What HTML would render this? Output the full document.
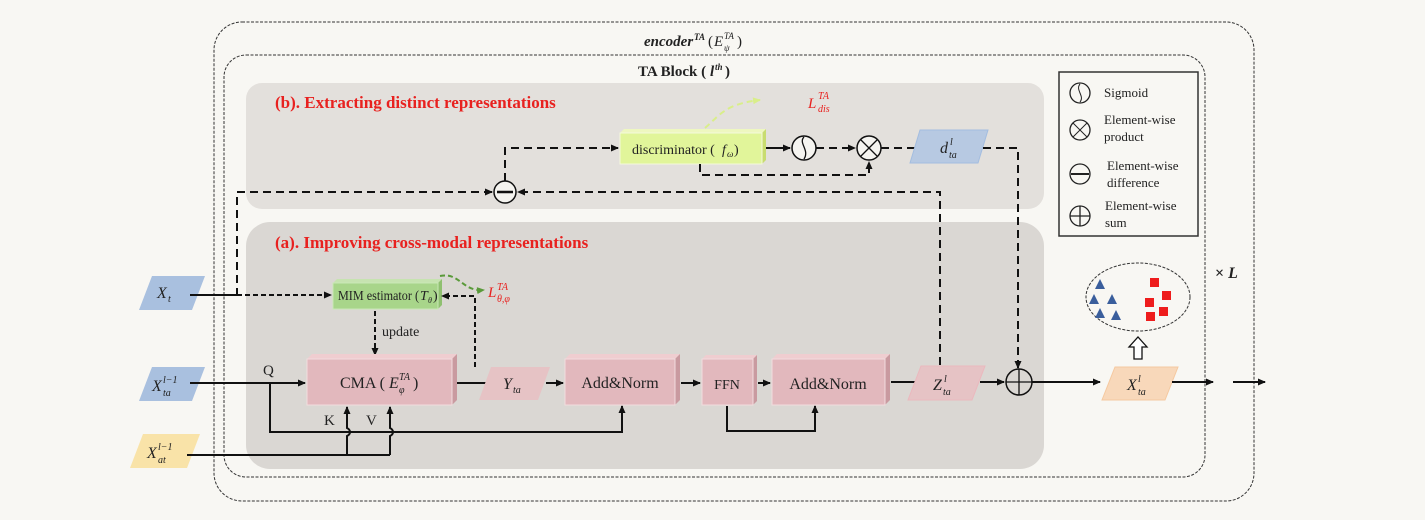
<!DOCTYPE html>
<html><head><meta charset="utf-8"><style>
html,body{margin:0;padding:0;background:#f8f7f3;}
svg{display:block;}
text{font-family:"Liberation Serif",serif;fill:#222;}
.it{font-style:italic;}
.r{fill:#e8211f;}
</style></head><body>
<svg width="1425" height="520" viewBox="0 0 1425 520" xmlns="http://www.w3.org/2000/svg">
<defs>
<marker id="a" markerWidth="8" markerHeight="8" refX="7" refY="4" orient="auto" markerUnits="userSpaceOnUse"><path d="M0,0.5 L8,4 L0,7.5 Z" fill="#111"/></marker>
<marker id="g" markerWidth="8" markerHeight="8" refX="7" refY="4" orient="auto" markerUnits="userSpaceOnUse"><path d="M0,0.5 L8,4 L0,7.5 Z" fill="#5a9a3a"/></marker>
<marker id="y" markerWidth="8" markerHeight="8" refX="7" refY="4" orient="auto" markerUnits="userSpaceOnUse"><path d="M0,0.5 L8,4 L0,7.5 Z" fill="#d9ee8a"/></marker>
</defs>
<rect width="1425" height="520" fill="#f8f7f3"/>
<rect x="214" y="22" width="1040" height="479" rx="28" fill="none" stroke="#333" stroke-width="1" stroke-dasharray="3,1.5"/>
<rect x="224" y="55" width="981" height="422" rx="22" fill="none" stroke="#333" stroke-width="1" stroke-dasharray="3,1.5"/>
<!-- title -->
<text x="644" y="46" font-size="15" font-weight="bold" class="it">encoder</text>
<text x="694" y="40" font-size="9" font-weight="bold" class="it">TA</text>
<text x="708" y="46" font-size="15">(</text>
<text x="714" y="46" font-size="15" class="it">E</text>
<text x="724" y="39" font-size="9" class="it">TA</text>
<text x="724" y="51" font-size="9" class="it">ψ</text>
<text x="737" y="46" font-size="15">)</text>
<text x="638" y="76" font-size="15" font-weight="bold">TA Block  (</text>
<text x="710" y="76" font-size="15" font-weight="bold" class="it">l</text>
<text x="715" y="70" font-size="9" font-weight="bold" class="it">th</text>
<text x="725" y="76" font-size="15" font-weight="bold">)</text>
<!-- panels -->
<rect x="246" y="83" width="798" height="126" rx="16" fill="#e3e0dc"/>
<rect x="246" y="222" width="798" height="247" rx="24" fill="#dad7d3"/>
<text x="275" y="108" font-size="17" font-weight="bold" class="r">(b). Extracting distinct representations</text>
<text x="275" y="248" font-size="17" font-weight="bold" class="r">(a). Improving cross-modal representations</text>
<!-- discriminator -->
<path d="M620,133 L624,129 L766,129 L762,133 Z" fill="#eef7c0"/>
<path d="M762,133 L766,129 L766,160 L762,164 Z" fill="#c8dc70"/>
<rect x="620" y="133" width="142" height="31" fill="#e1f59a" stroke="#f4f9dc"/>
<text x="632" y="154" font-size="14">discriminator (</text>
<text x="722" y="154" font-size="14" class="it">f</text>
<text x="727" y="157" font-size="9" class="it">ω</text>
<text x="734" y="154" font-size="14">)</text>
<path d="M705,128 C720,115 725,104 760,100" stroke="#d9ee8a" stroke-width="2" fill="none" stroke-dasharray="6,4" marker-end="url(#y)"/>
<text x="808" y="108" font-size="15" class="it r">L</text>
<text x="818" y="99" font-size="10" class="it r">TA</text>
<text x="818" y="112" font-size="10" class="it r">dis</text>
<line x1="766" y1="148" x2="790" y2="148" stroke="#111" stroke-width="2" marker-end="url(#a)"/>
<circle cx="804" cy="148" r="12" fill="#f5f4f0" stroke="#111" stroke-width="1.5"/>
<path d="M804,137 C798,143 810,150 804,159" stroke="#111" fill="none" stroke-width="1.3"/>
<line x1="816" y1="148" x2="855" y2="148" stroke="#111" stroke-width="2" stroke-dasharray="8,5" marker-end="url(#a)"/>
<circle cx="869" cy="148" r="12" fill="#f5f4f0" stroke="#111" stroke-width="1.5"/>
<path d="M861,140 L877,156 M877,140 L861,156" stroke="#111" stroke-width="1.3"/>
<path d="M700,164 L700,175 L869,175 L869,162" stroke="#111" stroke-width="2" fill="none" stroke-dasharray="8,5" marker-end="url(#a)"/>
<line x1="881" y1="148" x2="915" y2="148" stroke="#111" stroke-width="2" stroke-dasharray="8,5"/>
<polygon points="920,130 988,130 978,163 910,163" fill="#b7c9e2" stroke="#a3bde0"/>
<text x="940" y="153" font-size="16" class="it">d</text>
<text x="950" y="145" font-size="10" class="it">l</text>
<text x="949" y="158" font-size="10" class="it">ta</text>
<path d="M983,148 L1018,148 L1018,368" stroke="#111" stroke-width="2" fill="none" stroke-dasharray="8,5" marker-end="url(#a)"/>
<!-- difference -->
<path d="M237,296 L237,192 L492,192" stroke="#111" stroke-width="2" fill="none" stroke-dasharray="8,5" marker-end="url(#a)"/>
<path d="M940,365 L940,192 L518,192" stroke="#111" stroke-width="2" fill="none" stroke-dasharray="8,5" marker-end="url(#a)"/>
<circle cx="505" cy="192" r="11" fill="#f5f4f0" stroke="#111" stroke-width="1.5"/>
<line x1="497" y1="192" x2="513" y2="192" stroke="#111" stroke-width="2.5"/>
<path d="M505,181 L505,148 L618,148" stroke="#111" stroke-width="2" fill="none" stroke-dasharray="8,5" marker-end="url(#a)"/>
<!-- legend -->
<rect x="1059" y="72" width="139" height="164" fill="none" stroke="#333" stroke-width="1.5"/>
<circle cx="1080" cy="93" r="10" fill="none" stroke="#222" stroke-width="1.3"/>
<path d="M1080,84 C1075,90 1085,96 1080,102" stroke="#222" fill="none"/>
<text x="1104" y="97" font-size="13">Sigmoid</text>
<circle cx="1080" cy="130" r="10" fill="none" stroke="#222" stroke-width="1.3"/>
<path d="M1073,123 L1087,137 M1087,123 L1073,137" stroke="#222"/>
<text x="1104" y="124" font-size="13">Element-wise</text><text x="1104" y="141" font-size="13">product</text>
<circle cx="1080" cy="174" r="10" fill="none" stroke="#222" stroke-width="1.3"/>
<line x1="1071" y1="174" x2="1089" y2="174" stroke="#222" stroke-width="2"/>
<text x="1107" y="170" font-size="13">Element-wise</text><text x="1107" y="187" font-size="13">difference</text>
<circle cx="1080" cy="216" r="10" fill="none" stroke="#222" stroke-width="1.3"/>
<path d="M1070,216 L1090,216 M1080,206 L1080,226" stroke="#222" stroke-width="1.3"/>
<text x="1105" y="210" font-size="13">Element-wise</text><text x="1105" y="227" font-size="13">sum</text>
<!-- inputs -->
<polygon points="152,276 205,276 192,310 139,310" fill="#a9c0df"/>
<text x="157" y="298" font-size="16" class="it">X</text>
<text x="168" y="302" font-size="10" class="it">t</text>
<polygon points="152,367 205,367 192,401 139,401" fill="#a9c0df"/>
<text x="152" y="391" font-size="16" class="it">X</text>
<text x="163" y="383" font-size="10" class="it">l−1</text>
<text x="163" y="396" font-size="10" class="it">ta</text>
<polygon points="143,434 200,434 187,468 130,468" fill="#f9e3a8"/>
<text x="147" y="458" font-size="16" class="it">X</text>
<text x="158" y="450" font-size="10" class="it">l−1</text>
<text x="158" y="463" font-size="10" class="it">at</text>
<!-- MIM -->
<path d="M333,283 L337,279 L442,279 L438,283 Z" fill="#c6e3b0"/>
<path d="M438,283 L442,279 L442,305 L438,309 Z" fill="#8fc070"/>
<rect x="333" y="283" width="105" height="26" fill="#a8d58a" stroke="#c9e8b6"/>
<text x="338" y="300" font-size="14" textLength="81" lengthAdjust="spacingAndGlyphs">MIM estimator (</text>
<text x="420" y="300" font-size="14" class="it">T</text>
<text x="428" y="303" font-size="8" class="it">θ</text>
<text x="433" y="300" font-size="14">)</text>
<line x1="190" y1="295" x2="237" y2="295" stroke="#111" stroke-width="2"/>
<line x1="237" y1="295" x2="331" y2="295" stroke="#111" stroke-width="2" stroke-dasharray="5,3" marker-end="url(#a)"/>
<path d="M440,276 C460,272 462,292 484,290" stroke="#5a9a3a" stroke-width="2" fill="none" stroke-dasharray="5,3" marker-end="url(#g)"/>
<text x="488" y="297" font-size="15" class="it r">L</text>
<text x="497" y="290" font-size="10" class="it r">TA</text>
<text x="497" y="302" font-size="10" class="it r">θ,φ</text>
<path d="M475,367 L475,296 L442,296" stroke="#111" stroke-width="2" fill="none" stroke-dasharray="5,3" marker-end="url(#a)"/>
<line x1="375" y1="311" x2="375" y2="355" stroke="#111" stroke-width="2" stroke-dasharray="5,3" marker-end="url(#a)"/>
<text x="382" y="336" font-size="14">update</text>
<!-- CMA -->
<path d="M307,359 L312,354 L457,354 L452,359 Z" fill="#efcdd0"/>
<path d="M452,359 L457,354 L457,400 L452,405 Z" fill="#c99aa0"/>
<rect x="307" y="359" width="145" height="46" fill="#e2b8bd" stroke="#f1dcde"/>
<text x="340" y="388" font-size="16">CMA (</text>
<text x="389" y="388" font-size="16" class="it">E</text>
<text x="399" y="380" font-size="10" class="it">TA</text>
<text x="399" y="393" font-size="10" class="it">φ</text>
<text x="413" y="388" font-size="16">)</text>
<line x1="190" y1="383" x2="305" y2="383" stroke="#111" stroke-width="2" marker-end="url(#a)"/>
<text x="263" y="375" font-size="15">Q</text>
<path d="M270,383 L270,432 L622,432 L622,406" stroke="#111" stroke-width="2" fill="none" marker-end="url(#a)"/>
<path d="M187,455 L390,455" stroke="#111" stroke-width="2" fill="none"/>
<path d="M347,455 L347,436 C351,434 351,430 347,428 L347,407" stroke="#111" stroke-width="2" fill="none" marker-end="url(#a)"/>
<path d="M390,455 L390,436 C394,434 394,430 390,428 L390,407" stroke="#111" stroke-width="2" fill="none" marker-end="url(#a)"/>
<text x="324" y="425" font-size="15">K</text>
<text x="366" y="425" font-size="15">V</text>
<!-- Y_ta -->
<line x1="457" y1="383" x2="490" y2="383" stroke="#111" stroke-width="2"/>
<polygon points="491,367 550,367 538,400 479,400" fill="#e6c3c5"/>
<text x="503" y="389" font-size="16" class="it">Y</text>
<text x="513" y="393" font-size="10" class="it">ta</text>
<line x1="546" y1="383" x2="563" y2="383" stroke="#111" stroke-width="2" marker-end="url(#a)"/>
<!-- Add&Norm 1 -->
<path d="M565,359 L570,354 L680,354 L675,359 Z" fill="#efcdd0"/>
<path d="M675,359 L680,354 L680,400 L675,405 Z" fill="#c99aa0"/>
<rect x="565" y="359" width="110" height="46" fill="#e2b8bd" stroke="#f1dcde"/>
<text x="620" y="388" font-size="16" text-anchor="middle">Add&amp;Norm</text>
<line x1="681" y1="383" x2="700" y2="383" stroke="#111" stroke-width="2" marker-end="url(#a)"/>
<!-- FFN -->
<path d="M702,359 L706,355 L757,355 L753,359 Z" fill="#efcdd0"/>
<path d="M753,359 L757,355 L757,401 L753,405 Z" fill="#c99aa0"/>
<rect x="702" y="359" width="51" height="46" fill="#e2b8bd" stroke="#f1dcde"/>
<text x="727" y="389" font-size="14" text-anchor="middle">FFN</text>
<line x1="758" y1="383" x2="770" y2="383" stroke="#111" stroke-width="2" marker-end="url(#a)"/>
<path d="M727,406 L727,431 L815,431 L815,406" stroke="#111" stroke-width="2" fill="none" marker-end="url(#a)"/>
<!-- Add&Norm 2 -->
<path d="M772,359 L777,354 L890,354 L885,359 Z" fill="#efcdd0"/>
<path d="M885,359 L890,354 L890,400 L885,405 Z" fill="#c99aa0"/>
<rect x="772" y="359" width="113" height="46" fill="#e2b8bd" stroke="#f1dcde"/>
<text x="828" y="389" font-size="16" text-anchor="middle">Add&amp;Norm</text>
<line x1="891" y1="382" x2="920" y2="382" stroke="#111" stroke-width="2"/>
<polygon points="921,366 985,366 972,400 908,400" fill="#e6c3c5" stroke="#ebb8be"/>
<text x="933" y="390" font-size="16" class="it">Z</text>
<text x="944" y="382" font-size="10" class="it">l</text>
<text x="943" y="395" font-size="10" class="it">ta</text>
<line x1="980" y1="382" x2="1004" y2="382" stroke="#111" stroke-width="2" marker-end="url(#a)"/>
<circle cx="1019" cy="382" r="13" fill="none" stroke="#111" stroke-width="1.5"/>
<path d="M1006,382 L1032,382 M1019,369 L1019,395" stroke="#111" stroke-width="1.3"/>
<line x1="1032" y1="382" x2="1100" y2="382" stroke="#111" stroke-width="2" marker-end="url(#a)"/>
<polygon points="1115,367 1178,367 1165,400 1102,400" fill="#f8d8ba" stroke="#f5c9a0"/>
<text x="1127" y="390" font-size="16" class="it">X</text>
<text x="1138" y="382" font-size="10" class="it">l</text>
<text x="1138" y="395" font-size="10" class="it">ta</text>
<line x1="1172" y1="382" x2="1213" y2="382" stroke="#111" stroke-width="2" marker-end="url(#a)"/>
<line x1="1233" y1="382" x2="1265" y2="382" stroke="#111" stroke-width="2" marker-end="url(#a)"/>
<path d="M1134,359 L1134,347 L1129,347 L1138,337 L1147,347 L1142,347 L1142,359 Z" fill="#fff" stroke="#111" stroke-width="1.3"/>
<ellipse cx="1138" cy="297" rx="52" ry="34" fill="none" stroke="#333" stroke-width="1" stroke-dasharray="3,1.5"/>
<g fill="#3a5e9c">
<polygon points="1100,279 1105,289 1095,289"/>
<polygon points="1094,294 1099,304 1089,304"/>
<polygon points="1112,294 1117,304 1107,304"/>
<polygon points="1100,308 1105,318 1095,318"/>
<polygon points="1116,310 1121,320 1111,320"/>
</g>
<g fill="#ee1c1c">
<rect x="1150" y="278" width="9" height="9"/>
<rect x="1162" y="291" width="9" height="9"/>
<rect x="1145" y="298" width="9" height="9"/>
<rect x="1159" y="307" width="9" height="9"/>
<rect x="1146" y="312" width="9" height="9"/>
</g>
<text x="1215" y="278" font-size="16" font-weight="bold">× <tspan class="it">L</tspan></text>
</svg>
</body></html>
